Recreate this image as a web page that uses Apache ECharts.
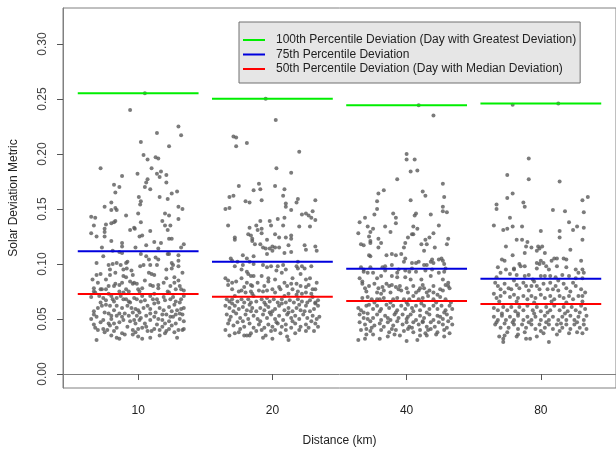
<!DOCTYPE html>
<html>
<head>
<meta charset="utf-8">
<title>Solar Deviation Metric by Distance</title>
<script src="https://cdn.jsdelivr.net/npm/echarts@6/dist/echarts.min.js"></script>
</head>
<body style="margin:0">
<div id="main" style="width:616px;height:452px;"></div>
<script type="text/javascript">
// distance groups and y tick values
var distances = ['10', '20', '40', '80'];
var yTicks = [0, 0.05, 0.10, 0.15, 0.20, 0.25, 0.30];

// percentile deviation per group
var p100 = [0.2551, 0.2503, 0.2442, 0.2460];
var p75 = [0.1115, 0.1021, 0.0957, 0.0866];
var p50 = [0.0727, 0.0703, 0.0664, 0.0636];

// daily points: [horizontal jitter, deviation]
var pts10 = [[0.05,0.2551],[-0.06,0.240],[0.30,0.225],[0.32,0.217],[0.14,0.219],[0.02,0.211],[0.23,0.207],[0.04,0.199],[0.13,0.197],[0.15,0.196],[0.07,0.195],[-0.28,0.187],[0.10,0.187],[0.17,0.184],[0.14,0.182],[0.16,0.179],[0.21,0.181],[-0.005,0.182],[-0.12,0.180],[0.07,0.177],[0.06,0.174],[0.21,0.174],[-0.18,0.172],[-0.14,0.170],[0.05,0.170],[0.09,0.168],[0.29,0.166],[0.25,0.164],[-0.17,0.165],[0.16,0.161],[0.22,0.159],[0.005,0.161],[0.02,0.157],[-0.20,0.156],[-0.25,0.152],[-0.17,0.151],[-0.16,0.149],[-0.20,0.149],[0.30,0.152],[0.33,0.150],[0.015,0.154],[0,0.146],[-0.09,0.144],[0.20,0.146],[0.23,0.144],[-0.35,0.143],[-0.32,0.142],[0.30,0.141],[0.18,0.139],[0.02,0.138],[-0.17,0.139],[-0.18,0.138],[-0.20,0.137],[-0.33,0.135],[-0.24,0.136],[-0.25,0.132],[-0.25,0.129],[-0.03,0.133],[-0.06,0.131],[-0.025,0.132],[0.20,0.135],[0.22,0.131],[0.24,0.135],[0.09,0.130],[-0.35,0.128],[0.03,0.126],[0.01,0.125],[0.23,0.123],[0.25,0.123],[-0.31,0.125],[-0.25,0.125],[-0.20,0.121],[0.12,0.120],[0.17,0.119],[-0.12,0.119],[-0.12,0.116],[0.06,0.117],[-0.02,0.115],[-0.27,0.115],[0.34,0.118],[0.32,0.115],[0.15,0.114],[0.22,0.109],[0.23,0.109],[-0.26,0.107],[-0.19,0.112],[-0.14,0.111],[-0.12,0.110],[0.02,0.109],[0.06,0.107],[0.13,0.106],[0.15,0.104],[0.30,0.108],[-0.31,0.101],[-0.16,0.101],[-0.13,0.099],[-0.09,0.101],[-0.08,0.102],[0.09,0.099],[0.14,0.099],[0.08,0.104],[0.25,0.101],[0.26,0.099],[0.30,0.103],[0.015,0.098],[0.04,0.099],[-0.22,0.099],[-0.19,0.100],[-0.21,0.095],[-0.17,0.092],[-0.21,0.090],[-0.085,0.096],[-0.11,0.095],[0.21,0.095],[0.25,0.096],[0.30,0.098],[-0.05,0.094],[0.08,0.092],[0.10,0.091],[0.12,0.090],[0.33,0.092],[-0.28,0.091],[-0.31,0.090],[-0.04,0.090],[-0.11,0.089],[-0.09,0.088],[-0.34,0.086],[0.21,0.087],[0.27,0.088],[0.30,0.085],[-0.17,0.082],[-0.14,0.081],[-0.12,0.083],[-0.22,0.080],[-0.18,0.080],[-0.04,0.082],[-0.03,0.083],[-0.01,0.082],[0.09,0.081],[0.11,0.080],[0.03,0.078],[0.15,0.081],[0.15,0.078],[0.27,0.083],[0.31,0.080],[0.32,0.077],[0.34,0.076],[-0.33,0.078],[-0.33,0.075],[-0.32,0.074],[-0.28,0.077],[-0.27,0.077],[-0.24,0.077],[-0.14,0.075],[-0.11,0.074],[-0.09,0.077],[-0.07,0.075],[0,0.077],[0.01,0.075],[0.22,0.075],[0.23,0.074],[0.28,0.077],
  [-0.29,0.071],[-0.26,0.069],[-0.24,0.067],[-0.20,0.071],[-0.19,0.068],[-0.18,0.066],[-0.16,0.069],[-0.13,0.071],[-0.09,0.068],[-0.07,0.066],[-0.06,0.065],[-0.03,0.069],[-0.01,0.068],[0.02,0.066],[0.05,0.067],[0.09,0.071],[0.11,0.068],[0.14,0.068],[0.15,0.065],[0.19,0.070],[0.20,0.067],[0.24,0.068],[0.28,0.066],[0.31,0.065],[0.34,0.071],[-0.28,0.065],[-0.27,0.062],[-0.21,0.062],[-0.16,0.062],[-0.12,0.060],[-0.05,0.060],[-0.02,0.059],[0,0.058],[0.07,0.062],[0.09,0.059],[0.16,0.060],[0.23,0.061],[0.29,0.058],[0.32,0.059],[-0.33,0.057],[-0.33,0.054],[-0.31,0.052],[-0.25,0.056],[-0.22,0.055],[-0.20,0.053],[-0.14,0.055],[-0.10,0.055],[-0.16,0.053],[-0.07,0.053],[-0.04,0.056],[-0.01,0.053],[0.01,0.056],[0.02,0.051],[0.09,0.055],[0.12,0.052],[0.13,0.056],[0.18,0.054],[0.21,0.054],[0.25,0.057],[0.26,0.052],[0.28,0.054],[0.31,0.055],[0.33,0.054],[-0.26,0.049],[-0.22,0.046],[-0.20,0.050],[-0.18,0.046],[-0.14,0.047],[-0.11,0.049],[-0.06,0.048],[-0.02,0.046],[0.01,0.049],[0.05,0.046],[0.09,0.049],[0.14,0.045],[0.18,0.049],[0.20,0.046],[0.23,0.048],[0.28,0.046],[0.31,0.050],[-0.33,0.045],[-0.30,0.040],[-0.26,0.041],[-0.23,0.040],[-0.21,0.044],[-0.18,0.039],[-0.16,0.042],[-0.12,0.037],[-0.04,0.040],[-0.02,0.038],[0,0.041],[0.03,0.042],[0.07,0.039],[0.16,0.040],[0.18,0.043],[0.21,0.039],[0.23,0.041],[0.25,0.044],[0.30,0.040],[0.33,0.040],[0.34,0.041],[-0.31,0.031],[-0.16,0.033],[-0.14,0.032],[-0.10,0.036],[-0.04,0.036],[0.03,0.032],[0.09,0.033],[0.10,0.039],[0.16,0.035],[0.20,0.037],[0.29,0.033],
  [-0.30,0.083],[-0.24,0.086],[-0.06,0.084],[0.05,0.085],[0.19,0.083],[0.24,0.080],[-0.35,0.070],[-0.22,0.073],[-0.11,0.068],[0.03,0.071],[0.12,0.073],[0.26,0.070],[0.32,0.068],[-0.30,0.060],[-0.24,0.063],[-0.18,0.058],[-0.08,0.062],[0.04,0.060],[0.12,0.064],[0.19,0.058],[0.27,0.063],[0.34,0.060],[-0.35,0.050],[-0.28,0.047],[-0.12,0.052],[-0.03,0.049],[0.06,0.053],[0.15,0.050],[0.24,0.052],[0.34,0.048],[-0.32,0.042],[-0.25,0.038],[-0.08,0.043],[0.06,0.043],[0.12,0.041],[0.27,0.038],[-0.20,0.035],[0,0.034]];

var pts20 = [[-0.05,0.2503],[0.025,0.231],[-0.29,0.216],[-0.27,0.215],[-0.27,0.207],[-0.19,0.210],[0.20,0.202],[0.03,0.187],[0.14,0.183],[-0.25,0.171],[-0.10,0.173],[-0.09,0.168],[-0.14,0.167],[0.02,0.171],[0.09,0.168],[-0.32,0.161],[-0.29,0.162],[-0.08,0.158],[-0.20,0.157],[-0.17,0.156],[0.08,0.162],[0.10,0.155],[0.10,0.152],[0.19,0.159],[0.18,0.156],[0.32,0.158],[-0.35,0.150],[-0.32,0.151],[0.14,0.149],[0.22,0.145],[0.25,0.146],[0.27,0.144],[0.30,0.148],[0.32,0.140],[0.29,0.142],[-0.09,0.139],[-0.12,0.135],[-0.02,0.139],[-0.01,0.135],[0.04,0.141],[0.09,0.142],[0.08,0.135],[-0.33,0.135],[0.20,0.134],[0.28,0.134],[-0.17,0.133],[-0.11,0.131],[-0.08,0.132],[-0.18,0.127],[-0.16,0.126],[-0.08,0.128],[0.02,0.127],[0.05,0.124],[0.10,0.124],[0.14,0.126],[0.14,0.123],[-0.28,0.124],[-0.28,0.122],[-0.04,0.122],[-0.15,0.121],[-0.13,0.118],[-0.15,0.123],[-0.09,0.118],[-0.07,0.115],[-0.05,0.114],[-0.02,0.114],[0,0.116],[0.02,0.115],[0.05,0.115],[0.12,0.117],[0.24,0.117],[0.25,0.113],[0.32,0.116],[0.33,0.112],[-0.04,0.109],[0,0.112],[0.09,0.110],[0.14,0.111],[-0.22,0.108],[-0.19,0.105],[-0.14,0.107],[-0.31,0.105],[-0.30,0.103],[-0.26,0.102],[-0.17,0.102],
  [0.19,0.102],[0.29,0.098],[0.18,0.098],[0.22,0.098],[-0.28,0.098],[-0.22,0.099],[-0.14,0.100],[-0.07,0.099],[-0.04,0.097],[-0.01,0.098],[0.04,0.098],[0.08,0.099],[0.10,0.095],[0.03,0.094],[-0.23,0.095],[-0.19,0.093],[-0.18,0.091],[0.19,0.096],[0.21,0.091],[0.24,0.096],[-0.14,0.089],[-0.16,0.089],[-0.08,0.089],[-0.03,0.087],[0.07,0.092],[0.15,0.087],[-0.35,0.087],[-0.33,0.085],[0.25,0.086],[0.28,0.087],[-0.30,0.083],[-0.27,0.084],[-0.23,0.087],[-0.19,0.083],[-0.16,0.081],[-0.15,0.080],[-0.11,0.083],[-0.03,0.084],[0.02,0.086],[0.09,0.083],[0.11,0.080],[0.18,0.082],[0.21,0.080],[0.27,0.081],[0.33,0.083],[0.30,0.077],[-0.30,0.077],[-0.23,0.076],[-0.25,0.075],[-0.20,0.074],[-0.16,0.075],[-0.15,0.073],[-0.10,0.076],[-0.07,0.075],[-0.04,0.076],[0,0.077],[0.02,0.074],[0.06,0.077],[0.12,0.073],[0.15,0.077],[0.19,0.075],[0.22,0.073],[0.25,0.074],[0.32,0.077],[0.29,0.073],
  [-0.34,0.068],[-0.32,0.066],[-0.30,0.068],[-0.26,0.066],[-0.23,0.068],[-0.21,0.065],[-0.18,0.068],[-0.16,0.065],[-0.12,0.066],[-0.08,0.068],[-0.06,0.065],[-0.02,0.066],[0.01,0.068],[0.04,0.065],[0.07,0.068],[0.10,0.065],[0.13,0.067],[0.16,0.065],[0.19,0.068],[0.22,0.066],[0.26,0.065],[0.28,0.067],[0.32,0.065],[0.34,0.067],[-0.35,0.062],[-0.32,0.060],[-0.28,0.062],[-0.25,0.059],[-0.22,0.061],[-0.19,0.058],[-0.15,0.060],[-0.12,0.057],[-0.09,0.060],[-0.06,0.058],[-0.03,0.061],[0,0.057],[0.02,0.059],[0.05,0.062],[0.09,0.058],[0.12,0.060],[0.15,0.057],[0.18,0.060],[0.21,0.058],[0.25,0.062],[0.28,0.057],[0.31,0.059],[0.34,0.062],[-0.34,0.054],[-0.31,0.052],[-0.27,0.055],[-0.24,0.051],[-0.20,0.054],[-0.18,0.050],[-0.14,0.053],[-0.11,0.050],[-0.07,0.054],[-0.04,0.051],[-0.01,0.054],[0.02,0.050],[0.05,0.053],[0.08,0.049],[0.11,0.054],[0.14,0.051],[0.17,0.053],[0.20,0.050],[0.23,0.054],[0.26,0.051],[0.30,0.053],[0.33,0.050],[0.35,0.052],[-0.33,0.046],[-0.29,0.044],[-0.26,0.047],[-0.21,0.043],[-0.17,0.046],[-0.14,0.042],[-0.10,0.045],[-0.06,0.042],[-0.03,0.045],[0,0.043],[0.04,0.046],[0.07,0.043],[0.10,0.045],[0.14,0.042],[0.17,0.046],[0.21,0.043],[0.25,0.045],[0.27,0.042],[0.32,0.046],[0.34,0.043],[-0.35,0.040],[-0.28,0.037],[-0.25,0.038],[-0.19,0.035],[-0.16,0.037],[-0.08,0.040],[-0.05,0.035],[-0.01,0.039],[0.06,0.037],[0.10,0.040],[0.17,0.037],[0.25,0.039],[-0.32,0.035],[-0.21,0.035],[-0.17,0.035],[-0.07,0.033],[0,0.032],[0.11,0.034],[0.12,0.031],
  [-0.33,0.081],[-0.21,0.079],[-0.06,0.080],[0.05,0.079],[0.14,0.082],[0.25,0.079],[-0.28,0.071],[-0.14,0.071],[-0.04,0.069],[0.09,0.071],[0.18,0.072],[0.30,0.070],[-0.30,0.064],[-0.17,0.063],[-0.05,0.063],[0.07,0.064],[0.20,0.063],[0.32,0.064],[-0.29,0.057],[-0.16,0.057],[-0.02,0.056],[0.12,0.056],[0.24,0.057],[-0.32,0.049],[-0.22,0.048],[-0.09,0.048],[0.03,0.047],[0.15,0.048],[0.29,0.048],[-0.24,0.041],[-0.12,0.039],[0.02,0.040],[0.20,0.040],[0.31,0.039]];

var pts40 = [[0.09,0.2442],[0.20,0.235],[0,0.200],[0,0.195],[0.06,0.195],[0.03,0.184],[0.08,0.185],[-0.07,0.177],[0.27,0.173],[-0.21,0.164],[-0.17,0.167],[0.12,0.166],[0.14,0.162],[0.28,0.161],[0.03,0.158],[-0.22,0.157],[-0.22,0.150],[0.27,0.152],[0.27,0.148],[0.30,0.147],[-0.24,0.145],[-0.31,0.142],[-0.10,0.146],[-0.08,0.142],[0.06,0.144],[0.07,0.146],[0.18,0.145],[-0.35,0.138],[-0.08,0.137],[-0.29,0.134],[-0.25,0.132],[-0.16,0.134],[0.05,0.134],[0.24,0.135],[-0.36,0.128],[-0.27,0.129],[-0.12,0.129],[0.04,0.127],[0.05,0.127],[0.08,0.132],[0.20,0.128],[-0.28,0.125],[-0.21,0.123],[0.01,0.124],[0.14,0.122],[0.17,0.124],[0.31,0.123],[-0.34,0.118],[-0.32,0.117],[-0.27,0.119],[-0.27,0.121],[-0.19,0.119],[-0.21,0.115],[-0.01,0.119],[-0.02,0.115],[0.11,0.118],[0.15,0.118],[0.21,0.115],[0.30,0.118],[0.13,0.112],[-0.04,0.109],[-0.28,0.108],[-0.27,0.107],[-0.15,0.108],[-0.11,0.109],[-0.08,0.108],[-0.01,0.105],[0.04,0.101],[0.07,0.101],[0.09,0.102],[0.18,0.102],[0.19,0.104],[0.20,0.101],[-0.02,0.102],[0.13,0.099],[0.15,0.099],[0.24,0.104],[0.26,0.105],[0.28,0.100],[0.27,0.103],[-0.16,0.098],[-0.11,0.099],[-0.27,0.097],
  [-0.34,0.097],[-0.32,0.093],[-0.32,0.095],[-0.29,0.092],[-0.25,0.092],[-0.18,0.097],[-0.16,0.094],[-0.07,0.092],[-0.06,0.095],[-0.01,0.094],[0.02,0.093],[0.04,0.096],[0.07,0.093],[0.14,0.094],[0.19,0.095],[0.24,0.092],[0.28,0.093],[0.29,0.096],[-0.35,0.087],[-0.33,0.084],[-0.33,0.082],[-0.22,0.087],[-0.19,0.089],[-0.11,0.089],[-0.07,0.088],[-0.01,0.088],[0.03,0.086],[0.11,0.086],[0.18,0.089],[0.27,0.086],[0.31,0.083],[-0.28,0.080],[-0.24,0.082],[-0.21,0.078],[-0.18,0.079],[-0.15,0.082],[-0.13,0.080],[-0.11,0.081],[-0.08,0.079],[-0.06,0.077],[0,0.078],[0.05,0.080],[0.12,0.081],[0.13,0.078],[0.20,0.080],[0.25,0.077],[0.31,0.080],[0.32,0.078],[-0.30,0.075],[-0.22,0.074],[-0.17,0.076],[-0.12,0.074],[-0.04,0.076],[0.01,0.074],[0.07,0.074],[0.09,0.076],[0.15,0.074],[0.20,0.074],[0.23,0.072],[0.27,0.076],[-0.33,0.069],[-0.29,0.070],[-0.26,0.068],[-0.22,0.068],[-0.20,0.068],[-0.17,0.069],[-0.10,0.068],[-0.07,0.069],[-0.02,0.068],[0.02,0.068],[0.05,0.071],[0.09,0.068],[0.12,0.069],[0.16,0.071],[0.20,0.068],[0.25,0.070],[0.29,0.068],
  [-0.36,0.060],[-0.34,0.058],[-0.30,0.062],[-0.28,0.063],[-0.25,0.059],[-0.22,0.062],[-0.19,0.059],[-0.15,0.063],[-0.13,0.060],[-0.10,0.062],[-0.07,0.058],[-0.04,0.062],[-0.01,0.059],[0.01,0.063],[0.04,0.060],[0.07,0.062],[0.10,0.058],[0.13,0.062],[0.17,0.059],[0.20,0.062],[0.23,0.059],[0.26,0.062],[0.29,0.058],[0.32,0.062],[0.34,0.059],[-0.35,0.054],[-0.32,0.051],[-0.29,0.055],[-0.25,0.051],[-0.22,0.054],[-0.19,0.049],[-0.16,0.053],[-0.12,0.049],[-0.09,0.054],[-0.06,0.051],[-0.03,0.054],[0,0.050],[0.03,0.054],[0.07,0.049],[0.10,0.053],[0.13,0.051],[0.17,0.054],[0.20,0.049],[0.23,0.053],[0.27,0.050],[0.30,0.054],[0.33,0.051],[-0.35,0.047],[-0.31,0.045],[-0.27,0.048],[-0.24,0.044],[-0.20,0.046],[-0.17,0.043],[-0.14,0.047],[-0.10,0.044],[-0.07,0.048],[-0.03,0.045],[0,0.047],[0.02,0.043],[0.05,0.047],[0.09,0.045],[0.12,0.048],[0.15,0.043],[0.18,0.047],[0.21,0.043],[0.24,0.047],[0.27,0.045],[0.31,0.048],[0.34,0.045],[-0.34,0.040],[-0.30,0.041],[-0.27,0.039],[-0.19,0.040],[-0.13,0.038],[-0.08,0.040],[-0.02,0.039],[0.01,0.041],[0.05,0.038],[0.10,0.040],[0.14,0.037],[0.18,0.041],[0.23,0.038],[0.28,0.040],[0.32,0.037],[-0.36,0.031],[-0.31,0.032],[-0.20,0.032],[0,0.030],[0.08,0.031],[-0.25,0.036],[-0.14,0.034],[-0.05,0.035],[0.15,0.035],[0.28,0.034],
  [-0.31,0.078],[-0.19,0.073],[-0.05,0.080],[0.10,0.078],[0.17,0.076],[0.29,0.081],[-0.24,0.065],[-0.12,0.065],[0,0.065],[0.11,0.064],[0.22,0.065],[0.33,0.065],[-0.32,0.056],[-0.20,0.057],[-0.08,0.056],[0.05,0.057],[0.15,0.056],[0.28,0.056],[-0.29,0.050],[-0.14,0.051],[0.01,0.052],[0.12,0.047],[0.25,0.052],[-0.26,0.042],[-0.11,0.041],[0.04,0.042],[0.16,0.040],[0.30,0.042],[-0.30,0.036],[-0.09,0.036],[0.10,0.035],[0.22,0.036]];

var pts80 = [[0.13,0.2460],[-0.21,0.2448],[-0.09,0.196],[-0.25,0.181],[-0.09,0.177],[0.14,0.175],[-0.21,0.164],[-0.25,0.160],[0.35,0.161],[0.31,0.158],[-0.33,0.154],[-0.33,0.150],[-0.13,0.156],[-0.12,0.152],[0.09,0.149],[0.18,0.148],[0.32,0.147],[-0.23,0.142],[-0.35,0.135],[-0.28,0.131],[-0.25,0.132],[-0.21,0.134],[-0.14,0.134],[0,0.130],[0.21,0.138],[0.14,0.130],[0.27,0.134],[0.32,0.133],[0.24,0.131],[0.14,0.124],[-0.18,0.122],[-0.14,0.122],[-0.10,0.120],[-0.07,0.115],[-0.11,0.116],[-0.26,0.116],[-0.02,0.116],[0.01,0.116],[0.31,0.122],[-0.12,0.110],[-0.03,0.112],[-0.01,0.114],[0.03,0.110],[0.22,0.113],[-0.21,0.108],[0.10,0.105],[0.12,0.105],[0.08,0.103],[0,0.103],[0.02,0.101],[0.30,0.103],[-0.01,0.100],[-0.03,0.101],[0.19,0.104],[0.17,0.105],[-0.29,0.104],[-0.27,0.103],[-0.16,0.100],[-0.15,0.098],[-0.12,0.098],[-0.20,0.096],[-0.20,0.095],[-0.32,0.097],[-0.30,0.092],[-0.26,0.095],[-0.03,0.096],[0.04,0.098],[0.06,0.095],[0.12,0.098],[0.19,0.097],[0.26,0.095],[0.31,0.095],[0.32,0.092],[0.28,0.092],[-0.23,0.091],[-0.18,0.090],[-0.12,0.089],[-0.09,0.090],[0,0.089],[0.03,0.089],[0.07,0.089],[0.11,0.088],[0.16,0.090],[0.21,0.089],[0.31,0.087],
  [-0.34,0.083],[-0.32,0.080],[-0.30,0.077],[-0.27,0.082],[-0.24,0.078],[-0.20,0.085],[-0.18,0.081],[-0.16,0.078],[-0.13,0.083],[-0.11,0.080],[-0.09,0.076],[-0.05,0.084],[-0.03,0.080],[-0.01,0.077],[0.02,0.082],[0.05,0.077],[0.07,0.083],[0.11,0.080],[0.13,0.076],[0.17,0.082],[0.19,0.078],[0.24,0.083],[0.26,0.080],[0.30,0.077],[0.33,0.074],[0.31,0.071],[-0.35,0.073],[-0.33,0.069],[-0.30,0.071],[-0.27,0.074],[-0.23,0.070],[-0.20,0.072],[-0.17,0.069],[-0.13,0.071],[-0.10,0.068],[-0.07,0.071],[-0.04,0.069],[0,0.072],[0.03,0.069],[0.07,0.071],[0.10,0.068],[0.14,0.071],[0.17,0.069],[0.21,0.071],[0.24,0.068],[0.28,0.071],
  [-0.35,0.060],[-0.32,0.058],[-0.28,0.061],[-0.25,0.058],[-0.22,0.061],[-0.19,0.057],[-0.16,0.061],[-0.13,0.058],[-0.10,0.062],[-0.06,0.058],[-0.03,0.061],[0,0.057],[0.04,0.061],[0.07,0.058],[0.10,0.062],[0.14,0.058],[0.17,0.061],[0.20,0.057],[0.23,0.061],[0.26,0.058],[0.30,0.062],[0.33,0.059],[-0.35,0.052],[-0.32,0.049],[-0.29,0.053],[-0.26,0.049],[-0.23,0.052],[-0.20,0.049],[-0.17,0.053],[-0.13,0.049],[-0.10,0.052],[-0.07,0.049],[-0.04,0.052],[0,0.049],[0.03,0.053],[0.06,0.049],[0.09,0.052],[0.13,0.049],[0.16,0.052],[0.19,0.049],[0.22,0.053],[0.25,0.049],[0.28,0.052],[0.32,0.049],[0.34,0.053],[-0.34,0.045],[-0.30,0.042],[-0.27,0.046],[-0.24,0.042],[-0.20,0.045],[-0.17,0.041],[-0.14,0.045],[-0.11,0.042],[-0.07,0.045],[-0.04,0.041],[-0.01,0.045],[0.03,0.042],[0.06,0.045],[0.09,0.041],[0.12,0.045],[0.16,0.042],[0.19,0.045],[0.22,0.041],[0.25,0.045],[0.29,0.042],[0.32,0.045],[0.34,0.041],[-0.31,0.034],[-0.27,0.035],[-0.18,0.034],[-0.11,0.032],[-0.08,0.032],[0.02,0.037],[0.06,0.029],[0.12,0.036],[0.21,0.037],[0.31,0.037],[-0.28,0.032],[-0.17,0.036],[-0.03,0.034],[-0.28,0.029],
  [-0.31,0.066],[-0.18,0.066],[-0.05,0.065],[0.08,0.066],[0.19,0.065],[0.31,0.066],[-0.29,0.055],[-0.17,0.055],[-0.05,0.055],[0.05,0.056],[0.18,0.055],[0.29,0.056],[-0.33,0.047],[-0.21,0.047],[-0.09,0.047],[0.04,0.047],[0.15,0.046],[0.27,0.047],[-0.25,0.038],[-0.12,0.038],[0,0.039],[0.14,0.039],[0.27,0.038],[-0.22,0.077],[-0.07,0.080],[0.09,0.077],[0.22,0.075],[-0.33,0.088],[-0.06,0.086],[0.13,0.085],[0.26,0.087]];

var groupPts = [pts10, pts20, pts40, pts80];
var lineColors = { p100: '#00ee00', p75: '#0000dd', p50: '#ff0000' };
var names = {
    p100: '100th Percentile Deviation (Day with Greatest Deviation)',
    p75: '75th Percentile Deviation',
    p50: '50th Percentile Deviation (Day with Median Deviation)'
};

var myChart = echarts.init(document.getElementById('main'));

var scatterData = [];
groupPts.forEach(function (pts, g) {
    pts.forEach(function (p) {
        scatterData.push([g + 1 + p[0], p[1]]);
    });
});

// one short horizontal segment per group, same legend name
function segSeries(key, vals) {
    return vals.map(function (v, g) {
        return {
            name: names[key],
            type: 'line',
            data: [[g + 1 - 0.45, v], [g + 1 + 0.45, v]],
            symbol: 'none',
            silent: true,
            z: 5,
            lineStyle: { color: lineColors[key], width: 2 },
            itemStyle: { color: lineColors[key] }
        };
    });
}

var axisColor = '#808080';
var font = 'Liberation Sans';

var option = {
    animation: false,
    backgroundColor: '#ffffff',
    textStyle: { fontFamily: font },
    grid: {
        left: 63, right: -3, top: 8, bottom: 64,
        show: true, borderColor: axisColor, borderWidth: 1
    },
    legend: {
        data: [names.p100, names.p75, names.p50],
        orient: 'vertical',
        left: 239, top: 22,
        icon: 'path://M0,0 L22,0 L22,2 L0,2 Z',
        itemWidth: 22, itemHeight: 14, itemGap: 2.5,
        padding: [12, 4, 8, 4],
        backgroundColor: '#e6e6e6',
        borderColor: '#707070', borderWidth: 1,
        textStyle: { fontFamily: font, fontSize: 12, color: '#222', padding: [0, 0, 0, 6] }
    },
    xAxis: {
        type: 'value',
        min: 0.44, max: 4.56,
        name: 'Distance (km)',
        nameLocation: 'middle',
        nameGap: 47,
        nameTextStyle: { fontFamily: font, fontSize: 12, color: '#222' },
        splitLine: { show: false },
        axisLine: { lineStyle: { color: axisColor } },
        axisTick: { customValues: [1, 2, 3, 4], length: 6, lineStyle: { color: '#555' } },
        axisLabel: {
            customValues: [1, 2, 3, 4], margin: 17,
            fontSize: 12, color: '#222',
            formatter: function (v) { return distances[Math.round(v) - 1]; }
        }
    },
    yAxis: {
        type: 'value',
        min: -0.0127, max: 0.3327,
        name: 'Solar Deviation Metric',
        nameLocation: 'middle',
        nameGap: 43,
        nameTextStyle: { fontFamily: font, fontSize: 12, color: '#222' },
        splitLine: { show: false },
        axisLine: { show: true, lineStyle: { color: axisColor } },
        axisTick: { show: true, customValues: yTicks, length: 6, lineStyle: { color: '#555' } },
        axisLabel: {
            customValues: yTicks, rotate: 90, margin: 14,
            fontSize: 12, color: '#444',
            formatter: function (v) { return v.toFixed(2); }
        }
    },
    series: [{
        type: 'scatter',
        data: scatterData,
        symbolSize: 4,
        silent: true,
        z: 2,
        itemStyle: { color: '#5a5a5a' }
    }].concat(segSeries('p100', p100), segSeries('p75', p75), segSeries('p50', p50))
};

myChart.setOption(option);
</script>
</body>
</html>
